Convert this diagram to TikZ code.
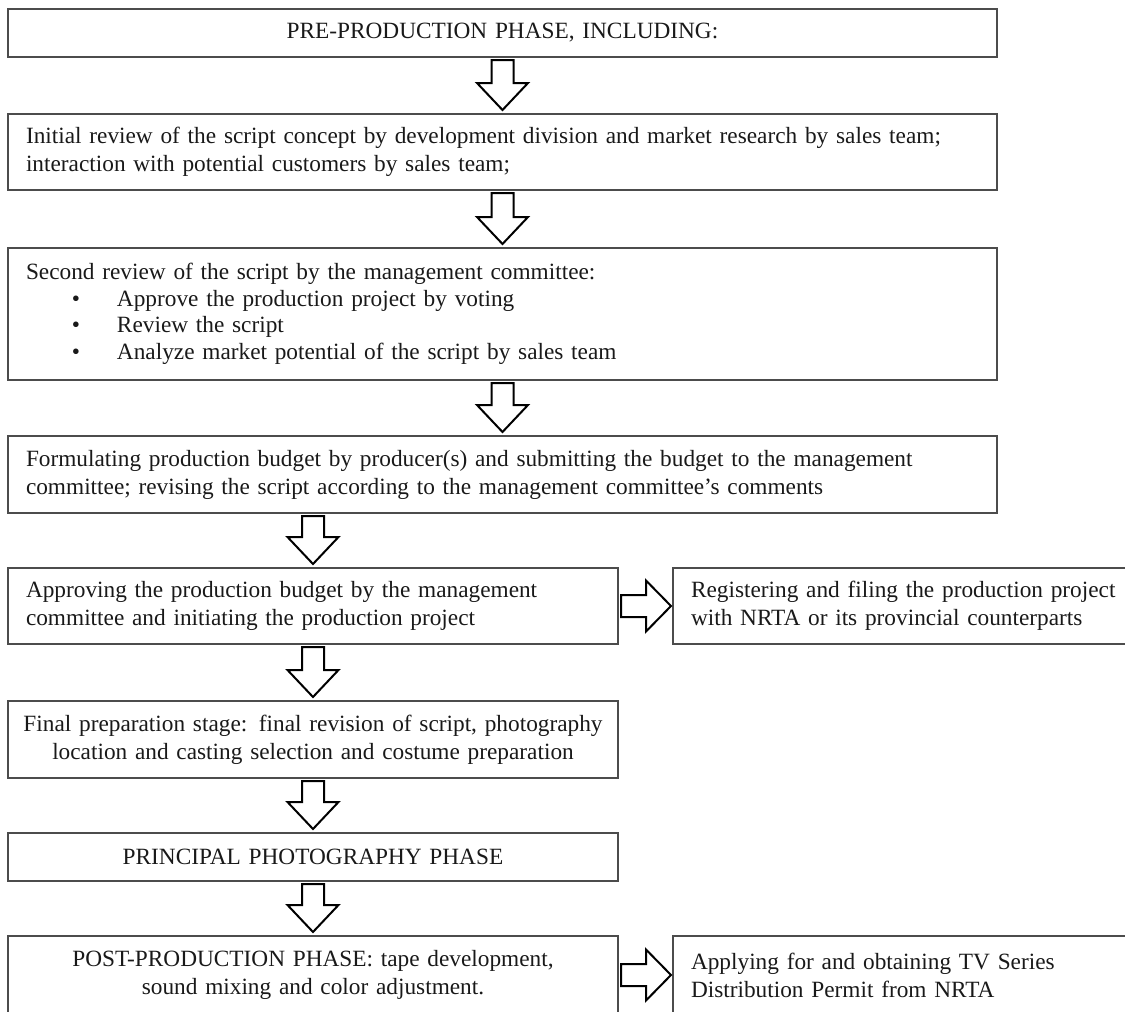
\documentclass[tikz,border=0pt]{standalone}
\usepackage{fontspec}
\setmainfont{Liberation Serif}
\usetikzlibrary{calc}
\newcommand{\blkdown}[2]{%
  \draw[barrow] let \p1=(#1.south), \p2=(#2.north) in
   (\x2-11pt,\y1-3pt) -- (\x2+11pt,\y1-3pt) -- (\x2+11pt,\y2+31pt) -- (\x2+25.5pt,\y2+31pt)
   -- (\x2,\y2+4pt) -- (\x2-25.5pt,\y2+31pt) -- (\x2-11pt,\y2+31pt) -- cycle;}
\newcommand{\blkright}[2]{%
  \draw[barrow] let \p1=(#1.east), \p2=(#2.west) in
   (\x1+3pt,\y2+11pt) -- (\x2-27pt,\y2+11pt) -- (\x2-27pt,\y2+25.5pt) -- (\x2-2pt,\y2)
   -- (\x2-27pt,\y2-25.5pt) -- (\x2-27pt,\y2-11pt) -- (\x1+3pt,\y2-11pt) -- cycle;}
\newcommand{\bul}{\hspace*{46pt}\makebox[45pt][l]{\textbullet}}
\begin{document}
\begin{tikzpicture}[x=1pt,y=-1pt,
  box/.style={draw=black!70, line width=1.4pt, anchor=north west, inner ysep=0pt, outer sep=0pt,
              text=black!90, font=\fontsize{23.3}{28}\selectfont},
  lbox/.style={box, inner xsep=18pt, align=left},
  cbox/.style={box, inner xsep=5pt, align=center},
  barrow/.style={draw=black, line width=2pt, fill=white, line join=miter}]
\useasboundingbox (0,0) rectangle (1125,1012);

\node[cbox, text width=979pt, minimum height=48pt] (b1) at (8,9) {PRE-PRODUCTION PHASE, INCLUDING:};
\node[lbox, text width=953pt, minimum height=76pt] (b2) at (8,114)
  {Initial review of the script concept by development division and market research by sales team;\\
   interaction with potential customers by sales team;};
\node[lbox, text width=953pt, minimum height=132pt, font=\fontsize{23.3}{26.5}\selectfont] (b3) at (8,248)
  {Second review of the script by the management committee:\\
   \bul Approve the production project by voting\\
   \bul Review the script\\
   \bul Analyze market potential of the script by sales team};
\node[lbox, text width=953pt, minimum height=77pt] (b4) at (8,436)
  {Formulating production budget by producer(s) and submitting the budget to the management\\
   committee; revising the script according to the management committee’s comments};
\node[lbox, text width=574pt, minimum height=76pt] (b5) at (8,568)
  {Approving the production budget by the management\\
   committee and initiating the production project};
\node[lbox, text width=440pt, minimum height=76pt] (b6) at (673,568)
  {Registering and filing the production project\\
   with NRTA or its provincial counterparts};
\node[cbox, text width=600pt, minimum height=77pt] (b7) at (8,701)
  {Final preparation stage: final revision of script, photography\\
   location and casting selection and costume preparation};
\node[cbox, text width=600pt, minimum height=48pt] (b8) at (8,833) {PRINCIPAL PHOTOGRAPHY PHASE};
\node[cbox, text width=600pt, minimum height=78pt] (b9) at (8,936)
  {POST-PRODUCTION PHASE: tape development,\\
   sound mixing and color adjustment.};
\node[lbox, text width=440pt, minimum height=78pt] (b10) at (673,936)
  {Applying for and obtaining TV Series\\
   Distribution Permit from NRTA};

\blkdown{b1}{b2}
\blkdown{b2}{b3}
\blkdown{b3}{b4}
\blkdown{b4}{b5}
\blkright{b5}{b6}
\blkdown{b5}{b7}
\blkdown{b7}{b8}
\blkdown{b8}{b9}
\blkright{b9}{b10}
\end{tikzpicture}
\end{document}
